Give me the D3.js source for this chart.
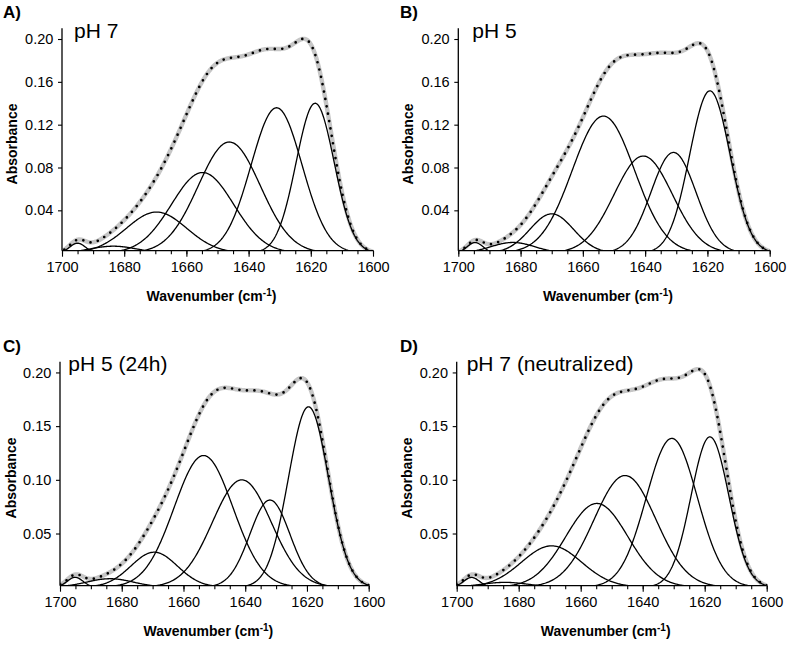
<!DOCTYPE html>
<html>
<head>
<meta charset="utf-8">
<script src="https://cdn.jsdelivr.net/npm/d3@7"></script>
<style>
  html, body { margin: 0; padding: 0; background: #fff; }
  svg { display: block; }
  text { font-family: "Liberation Sans", Arial, sans-serif; fill: #000; }
</style>
</head>
<body>
<svg id="chart" width="787" height="645"></svg>
<script>
// ---------------- data ----------------
const panelLetters = ["A)", "B)", "C)", "D)"];
const panelTitles = ["pH 7", "pH 5", "pH 5 (24h)", "pH 7 (neutralized)"];

const wavenumberTicks = [1700, 1680, 1660, 1640, 1620, 1600];
const absorbanceTicksAB = [0.04, 0.08, 0.12, 0.16, 0.20];
const absorbanceTicksCD = [0.05, 0.10, 0.15, 0.20];

// fitted component bands: centre (cm-1), peak absorbance, FWHM (cm-1)
const bandCenterA = [1695.0, 1683.5, 1669.6, 1654.8, 1646.2, 1631.0, 1618.6];
const bandHeightA = [0.0093, 0.0065, 0.0384, 0.0753, 0.1038, 0.1358, 0.1400];
const bandFwhmA   = [6.0, 17.7, 22.8, 23.5, 23.5, 19.3, 14.4];

const bandCenterB = [1694.6, 1682.5, 1670.0, 1653.4, 1640.6, 1630.9, 1619.2];
const bandHeightB = [0.0099, 0.0100, 0.0367, 0.1280, 0.0907, 0.0941, 0.1516];
const bandFwhmB   = [6.0, 16.5, 16.5, 23.5, 22.0, 17.0, 15.3];

const bandCenterC = [1695.1, 1683.8, 1669.5, 1653.5, 1641.1, 1632.0, 1619.5];
const bandHeightC = [0.0092, 0.0079, 0.0326, 0.1226, 0.1000, 0.0812, 0.1680];
const bandFwhmC   = [6.0, 17.7, 17.7, 22.4, 22.4, 15.3, 15.3];

const bandCenterD = [1695.2, 1684.4, 1669.4, 1654.8, 1645.7, 1630.6, 1618.3];
const bandHeightD = [0.0091, 0.0045, 0.0385, 0.0780, 0.1040, 0.1386, 0.1400];
const bandFwhmD   = [6.0, 17.7, 22.8, 23.5, 23.5, 19.3, 14.4];

const axisMinAB = 0.0023, axisMinCD = 0.0014, axisMax = 0.21;

// ---------------- layout ----------------
const frames = [
  { left: 62,    right: 373,   top: 28.3,  bottom: 250.7, letterX: 3,   letterY: 18,  titleX: 74,    titleY: 38,  ytitleX: 16.7,  ytitleY: 144 },
  { left: 458.3, right: 769.7, top: 28.3,  bottom: 250.7, letterX: 400, letterY: 18,  titleX: 472.3, titleY: 38,  ytitleX: 413,   ytitleY: 144 },
  { left: 60,    right: 368.7, top: 361.7, bottom: 585.7, letterX: 3,   letterY: 352, titleX: 68.3,  titleY: 371, ytitleX: 16.2,  ytitleY: 478 },
  { left: 456.7, right: 766.7, top: 361.7, bottom: 585.7, letterX: 400, letterY: 352, titleX: 466.7, titleY: 371, ytitleX: 411.7, ytitleY: 478 }
];

const panels = [
  { c: bandCenterA, h: bandHeightA, w: bandFwhmA, ticks: absorbanceTicksAB, ymin: axisMinAB },
  { c: bandCenterB, h: bandHeightB, w: bandFwhmB, ticks: absorbanceTicksAB, ymin: axisMinAB },
  { c: bandCenterC, h: bandHeightC, w: bandFwhmC, ticks: absorbanceTicksCD, ymin: axisMinCD },
  { c: bandCenterD, h: bandHeightD, w: bandFwhmD, ticks: absorbanceTicksCD, ymin: axisMinCD }
];

const svg = d3.select("#chart");
const grid = d3.range(1600, 1700.001, 0.25);

function band(c, h, fwhm) {
  const s = fwhm / 2.3548;
  return wn => h * Math.exp(-((wn - c) * (wn - c)) / (2 * s * s));
}

panels.forEach((p, i) => {
  const f = frames[i];
  const x = d3.scaleLinear().domain([1700, 1600]).range([f.left, f.right]);
  const y = d3.scaleLinear().domain([p.ymin, axisMax]).range([f.bottom, f.top]);
  const g = svg.append("g");

  const clipId = "clip" + i;
  svg.append("clipPath").attr("id", clipId)
    .append("rect").attr("x", f.left).attr("y", f.top - 5)
    .attr("width", f.right - f.left + 1).attr("height", f.bottom - f.top + 5);

  const fns = p.c.map((c, k) => band(c, p.h[k], p.w[k]));
  const comps = fns.map(fn => grid.map(wn => [wn, fn(wn)]));
  const total = grid.map(wn => [wn, d3.sum(fns, fn => fn(wn))]);

  const line = d3.line().x(d => x(d[0])).y(d => y(d[1]));
  const plot = g.append("g").attr("clip-path", `url(#${clipId})`);

  // measured spectrum (grey, thick)
  plot.append("path").datum(total).attr("d", line)
    .attr("fill", "none").attr("stroke", "#c6c6c6").attr("stroke-width", 4.4)
    .attr("stroke-linejoin", "round");

  // component bands
  plot.selectAll("path.comp").data(comps).join("path").attr("class", "comp")
    .attr("d", line).attr("fill", "none").attr("stroke", "#000").attr("stroke-width", 1.3);

  // fitted sum (dotted)
  plot.append("path").datum(total).attr("d", line)
    .attr("fill", "none").attr("stroke", "#000").attr("stroke-width", 2.7)
    .attr("stroke-linecap", "round").attr("stroke-dasharray", "0 7.5");

  // axes
  const yAxis = d3.axisLeft(y).tickValues(p.ticks).tickSize(4).tickSizeOuter(0).tickPadding(4.7)
    .tickFormat(d3.format(".2f"));
  const ya = g.append("g").attr("transform", `translate(${f.left},0)`).call(yAxis);
  ya.select(".domain").remove();
  ya.append("line").attr("x1", 0).attr("x2", 0).attr("y1", f.top).attr("y2", f.bottom)
    .attr("stroke", "#000").attr("stroke-width", 1.3);

  const minor = d3.range(1600, 1701, 5);
  const xMinor = d3.axisBottom(x).tickValues(minor).tickSize(3.5).tickFormat("");
  const xm = g.append("g").attr("transform", `translate(0,${f.bottom})`).call(xMinor);
  xm.select(".domain").remove();
  const xAxis = d3.axisBottom(x).tickValues(wavenumberTicks).tickSize(6).tickSizeOuter(0).tickPadding(5)
    .tickFormat(d3.format("d"));
  const xa = g.append("g").attr("transform", `translate(0,${f.bottom})`).call(xAxis);
  xa.select(".domain").remove();
  xa.append("line").attr("x1", f.left).attr("x2", f.right).attr("y1", 0).attr("y2", 0)
    .attr("stroke", "#000").attr("stroke-width", 1.3);

  g.selectAll(".tick line").attr("stroke", "#000").attr("stroke-width", 1.1);
  g.selectAll(".tick text").attr("font-size", 14.5).attr("font-family", '"Liberation Sans", Arial, sans-serif');

  // axis titles
  const xt = g.append("text").attr("x", (f.left + f.right) / 2 - 6).attr("y", f.bottom + 50.5)
    .attr("text-anchor", "middle").attr("font-size", 14).attr("font-weight", "bold");
  xt.append("tspan").text("Wavenumber (cm");
  xt.append("tspan").attr("dy", -5).attr("font-size", 10).text("-1");
  xt.append("tspan").attr("dy", 5).text(")");

  g.append("text").attr("transform", `translate(${f.ytitleX},${f.ytitleY}) rotate(-90)`)
    .attr("text-anchor", "middle").attr("font-size", 14).attr("font-weight", "bold")
    .text("Absorbance");

  g.append("text").attr("x", f.letterX).attr("y", f.letterY)
    .attr("font-size", 17).attr("font-weight", "bold").text(panelLetters[i]);
  g.append("text").attr("x", f.titleX).attr("y", f.titleY)
    .attr("font-size", 21).text(panelTitles[i]);
});
</script>
</body>
</html>
